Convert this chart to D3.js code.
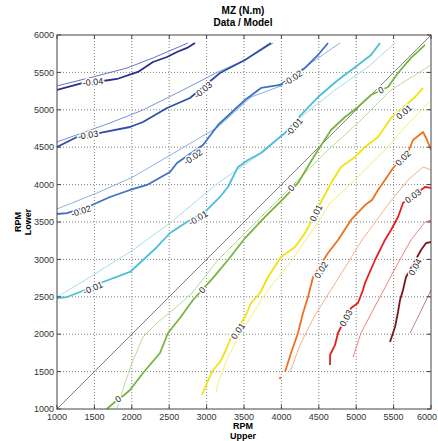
<!DOCTYPE html>
<html><head><meta charset="utf-8">
<script src="https://cdn.jsdelivr.net/npm/d3@7"></script>
<style>body{margin:0;background:#fff} svg{display:block;font-family:"Liberation Sans",Arial,Helvetica,sans-serif}</style>
</head><body>
<svg id="c" width="438" height="441"></svg>
<script>
// ---- tick values ----
const xTicks = [1000,1500,2000,2500,3000,3500,4000,4500,5000,5500,6000];
const yTicks = [1000,1500,2000,2500,3000,3500,4000,4500,5000,5500,6000];

// ---- contour levels ----
const levels = ["-0.04","-0.03","-0.02","-0.01","0","0.01","0.02","0.03","0.04"];

// ---- Data contours (thick) [Upper RPM, Lower RPM] ----
const dataM004 = [[1000,5265],[1348,5359],[1615,5385],[1802,5412],[2083,5506],[2283,5639],[2471,5706],[2604,5773],[2738,5827],[2845,5893]];
const dataM003 = [[1000,4503],[1267,4637],[1575,4690],[1976,4770],[2150,4837],[2471,5024],[2778,5158],[3179,5492],[3513,5666],[3861,5893]];
const dataM002 = [[1000,3607],[1134,3620],[1468,3727],[1709,3834],[1976,3928],[2203,3995],[2511,4169],[2604,4289],[2952,4530],[3153,4797],[3514,5131],[3728,5292],[3982,5332],[4316,5559],[4490,5733],[4623,5893]];
const dataM001 = [[1000,2484],[1134,2497],[1307,2564],[1615,2698],[1976,2832],[2150,2992],[2337,3166],[2511,3353],[2738,3500],[3005,3661],[3179,3835],[3286,3968],[3420,4236],[3554,4329],[3727,4423],[3821,4503],[4048,4690],[4262,4931],[4490,5171],[4757,5399],[5024,5600],[5198,5733],[5318,5893]];
const dataZero = [[1668,1000],[1802,1120],[1882,1174],[1976,1254],[2150,1481],[2377,1749],[2484,2016],[2644,2217],[2818,2457],[3086,2752],[3286,2992],[3514,3286],[3781,3567],[4048,3834],[4222,4022],[4383,4289],[4490,4463],[4664,4730],[4851,4904],[5024,5038],[5198,5198],[5425,5305],[5559,5492],[5733,5693],[5920,5867]];
const dataP001 = [[2939,1187],[3005,1348],[3086,1521],[3179,1628],[3259,1789],[3326,1963],[3514,2230],[3594,2417],[3714,2551],[3821,2765],[3995,3032],[4182,3166],[4316,3353],[4396,3500],[4530,3767],[4664,4022],[4797,4236],[4984,4369],[5118,4503],[5292,4637],[5466,4891],[5787,5171],[5894,5292]];
const dataP002 = [[4048,1495],[4129,1749],[4222,2016],[4289,2284],[4356,2497],[4423,2765],[4623,3086],[4757,3260],[4931,3527],[5118,3727],[5211,3794],[5292,3928],[5385,4062],[5493,4222],[5693,4436],[5760,4596],[5894,4703],[5947,4596],[6000,4463]];
const dataP002b = [[3975,1400],[3990,1428]];
const dataP003 = [[4650,1588],[4650,1722],[4717,1856],[4757,2016],[4797,2096],[4931,2350],[5024,2417],[5091,2591],[5118,2685],[5252,2992],[5385,3260],[5466,3393],[5559,3567],[5626,3754],[5920,3968],[6000,3955]];
const dataP004 = [[5452,1896],[5519,2096],[5559,2297],[5586,2457],[5626,2591],[5666,2765],[5867,3126],[5934,3219],[6000,3233]];

// ---- Model contours (thin) ----
const modelM004 = [[1000,5319],[1481,5439],[1936,5559],[2283,5693],[2751,5893]];
const modelM003 = [[1000,4570],[1709,4824],[2150,4998],[2685,5265],[3153,5506],[3514,5666],[3888,5893]];
const modelM002 = [[1000,3674],[1535,3888],[2016,4102],[2471,4369],[3153,4770],[3594,5171],[3995,5319],[4262,5533],[4784,5893]];
const modelM001 = [[1000,2497],[1441,2765],[2016,3126],[2511,3487],[3153,4022],[3794,4463],[4262,4904],[4717,5265],[5158,5573],[5519,5893]];
const modelZero = [[1802,1000],[1909,1348],[2003,1615],[2150,1963],[2337,2150],[2551,2324],[2805,2551],[3153,2992],[3594,3433],[4089,3928],[4623,4463],[5024,4824],[5466,5265],[6000,5600]];
const modelP001 = [[3126,1227],[3153,1348],[3286,1695],[3460,2016],[3647,2324],[3821,2591],[4142,2992],[4490,3500],[4650,3754],[4984,4062],[5385,4463],[5653,4770],[6000,5131]];
const modelP002 = [[4115,1495],[4249,1856],[4449,2257],[4663,2591],[5078,3260],[5452,3768],[5693,4062],[5894,4236],[6000,4196]];
const modelP003 = [[4958,1695],[5064,2016],[5225,2324],[5318,2497],[5559,2952],[5733,3260],[5920,3500],[6000,3527]];
const modelP004 = [[5720,2016],[5827,2230],[6000,2591]];

// ---- diagonal reference ----
const diagonal = [[1000,1000],[6000,6000]];

// ---- contour label spots [level index, Upper, Lower] ----
const labelSpots = [
  [0,1481,5372],
  [1,1414,4663],[1,2952,5265],
  [2,1321,3647],[2,2818,4369],[2,4155,5426],
  [3,1481,2618],[3,2885,3553],[3,4169,4771],
  [4,1815,1134],[4,2939,2591],[4,4129,3955],[4,5332,5265],
  [5,3420,2043],[5,4463,3620],[5,5640,4971],
  [6,4530,2858],[6,5626,4356],
  [7,4864,2216],[7,5760,3848],
  [8,5787,2898]
];

const dataLines = [dataM004,dataM003,dataM002,dataM001,dataZero,dataP001,dataP002,dataP003,dataP004];
const modelLines = [modelM004,modelM003,modelM002,modelM001,modelZero,modelP001,modelP002,modelP003,modelP004];

// ---- styles ----
const thickColors = ["#2a2e8a","#2f4fa6","#3c72c2","#4bbfd9","#76b63f","#f2e20e","#f07020","#e61e1e","#7e1616"];
const thinColors  = ["#6c72bc","#7a92d2","#8cb0e2","#a6deec","#badc9a","#f3ef78","#f7b08e","#f08282","#c28080"];

const svg = d3.select("#c");
const L = 57, R = 431, T = 35, B = 409;
const x = d3.scaleLinear().domain([1000,6000]).range([L,R]);
const y = d3.scaleLinear().domain([1000,6000]).range([B,T]);

// grid
const grid = svg.append("g");
grid.selectAll("line.gx").data(xTicks.slice(1,-1)).enter().append("line")
  .attr("x1",d=>x(d)).attr("x2",d=>x(d)).attr("y1",T).attr("y2",B)
  .attr("stroke","#808080").attr("stroke-width",1).attr("stroke-dasharray","1,2");
grid.selectAll("line.gy").data(yTicks.slice(1,-1)).enter().append("line")
  .attr("y1",d=>y(d)).attr("y2",d=>y(d)).attr("x1",L).attr("x2",R)
  .attr("stroke","#808080").attr("stroke-width",1).attr("stroke-dasharray","1,2");

const line = d3.line().x(d=>x(d[0])).y(d=>y(d[1]));
const clipId = "clipP";
svg.append("clipPath").attr("id",clipId).append("rect").attr("x",L).attr("y",T).attr("width",R-L).attr("height",B-T);
const plot = svg.append("g").attr("clip-path","url(#"+clipId+")");

// diagonal
plot.append("path").attr("d",line(diagonal)).attr("fill","none").attr("stroke","#707070").attr("stroke-width",0.9);

// model thin lines
modelLines.forEach((pts,i)=>{
  plot.append("path").attr("d",line(pts)).attr("fill","none")
    .attr("stroke",thinColors[i]).attr("stroke-width",1);
});
// data thick lines
dataLines.forEach((pts,i)=>{
  plot.append("path").attr("d",line(pts)).attr("fill","none")
    .attr("stroke",thickColors[i]).attr("stroke-width",1.8).attr("stroke-linejoin","round");
});
plot.append("path").attr("d",line(dataP002b)).attr("fill","none").attr("stroke",thickColors[6]).attr("stroke-width",1.8);

// labels (angle from nearest segment of the data line)
function angleAt(pts, px, py){
  let best=1e9, ang=0;
  for(let k=0;k<pts.length-1;k++){
    const ax=x(pts[k][0]), ay=y(pts[k][1]), bx=x(pts[k+1][0]), by=y(pts[k+1][1]);
    const dx=bx-ax, dy=by-ay, len2=dx*dx+dy*dy||1;
    let t=((px-ax)*dx+(py-ay)*dy)/len2; t=Math.max(0,Math.min(1,t));
    const cx=ax+t*dx, cy=ay+t*dy, d2=(px-cx)**2+(py-cy)**2;
    if(d2<best){best=d2; ang=Math.atan2(dy,dx)*180/Math.PI;}
  }
  if(ang>90) ang-=180; if(ang<-90) ang+=180;
  return ang;
}
const lab = svg.append("g");
labelSpots.forEach(s=>{
  const px=x(s[1]), py=y(s[2]);
  const a=angleAt(dataLines[s[0]],px,py);
  lab.append("text").attr("transform",`translate(${px},${py}) rotate(${a})`)
    .attr("text-anchor","middle").attr("dy","0.35em")
    .attr("font-size",9).attr("fill","#222")
    .attr("stroke","#fff").attr("stroke-width",3).attr("paint-order","stroke")
    .text(levels[s[0]]);
});

// frame
svg.append("rect").attr("x",L).attr("y",T).attr("width",R-L).attr("height",B-T)
  .attr("fill","none").attr("stroke","#444").attr("stroke-width",1);

// ticks (inward, all sides)
const tk = svg.append("g").attr("stroke","#444").attr("stroke-width",1);
xTicks.forEach(v=>{
  tk.append("line").attr("x1",x(v)).attr("x2",x(v)).attr("y1",B).attr("y2",B-4);
  tk.append("line").attr("x1",x(v)).attr("x2",x(v)).attr("y1",T).attr("y2",T+4);
});
yTicks.forEach(v=>{
  tk.append("line").attr("y1",y(v)).attr("y2",y(v)).attr("x1",L).attr("x2",L+4);
  tk.append("line").attr("y1",y(v)).attr("y2",y(v)).attr("x1",R).attr("x2",R-4);
});

// tick labels
const tl = svg.append("g").attr("font-size",9).attr("fill","#333");
xTicks.forEach((v,i)=>{
  const last = i===xTicks.length-1;
  tl.append("text").attr("x",last ? 437 : x(v)).attr("y",B+11)
    .attr("text-anchor",last ? "end" : "middle").text(v);
});
yTicks.forEach(v=>{
  tl.append("text").attr("x",L-3).attr("y",y(v)).attr("dy","0.35em").attr("text-anchor","end").text(v);
});

// titles
svg.append("text").attr("x",243).attr("y",14).attr("text-anchor","middle").attr("font-size",10).attr("font-weight","bold").text("MZ (N.m)");
svg.append("text").attr("x",243).attr("y",26).attr("text-anchor","middle").attr("font-size",10).attr("font-weight","bold").text("Data / Model");
svg.append("text").attr("x",243).attr("y",429).attr("text-anchor","middle").attr("font-size",9).attr("font-weight","bold").text("RPM");
svg.append("text").attr("x",243).attr("y",439).attr("text-anchor","middle").attr("font-size",9).attr("font-weight","bold").text("Upper");
svg.append("text").attr("transform","translate(21,222) rotate(-90)").attr("text-anchor","middle").attr("font-size",9).attr("font-weight","bold").text("RPM");
svg.append("text").attr("transform","translate(31,222) rotate(-90)").attr("text-anchor","middle").attr("font-size",9).attr("font-weight","bold").text("Lower");
</script>
</body></html>
